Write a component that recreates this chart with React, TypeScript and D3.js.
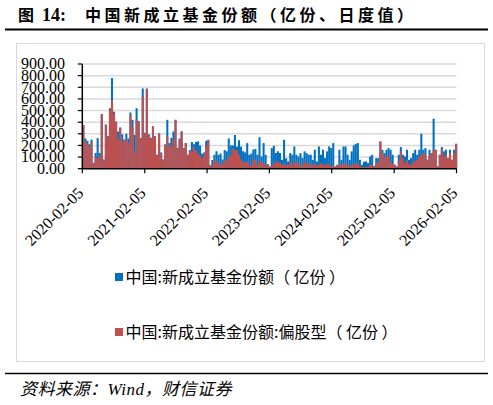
import { useEffect, useRef } from "react"
import * as d3 from "d3"

const startDate = new Date(2020, 1, 5)
const endDate = new Date(2026, 1, 5)
const stepDays = 12

// 中国:新成立基金份额 (亿份)
const totalShares = [
  375, 260, 240, 210, 250, 50, 135, 263, 135, 470, 80, 380, 280, 520, 780, 490, 405, 320, 355, 295,
  250, 300, 260, 483, 420, 290, 520, 410, 265, 690, 310, 690, 295, 265, 365, 280, 120, 305, 140, 80,
  210, 420, 220, 265, 320, 420, 180, 260, 320, 177, 220, 120, 160, 230, 210, 230, 235, 200, 130, 140,
  240, 248, 30, 75, 120, 150, 120, 130, 80, 160, 150, 260, 200, 200, 290, 190, 245, 190, 150, 140,
  220, 120, 130, 165, 170, 120, 270, 105, 220, 120, 40, 20, 177, 197, 135, 150, 135, 77, 249, 90,
  63, 134, 120, 191, 120, 105, 134, 91, 149, 134, 120, 120, 77, 163, 63, 191, 120, 163, 91, 149,
  191, 177, 220, 20, 34, 163, 77, 191, 191, 120, 77, 149, 200, 214, 220, 77, 34, 60, 63, 49,
  105, 120, 25, 91, 91, 234, 163, 134, 163, 177, 163, 120, 34, 20, 120, 186, 120, 105, 163, 77,
  91, 134, 163, 120, 163, 300, 163, 177, 77, 163, 134, 430, 163, 20, 120, 186, 149, 163, 91, 163,
  77, 163, 214,
]

// 中国:新成立基金份额:偏股型 (亿份)
const equityShares = [
  375, 230, 215, 190, 230, 45, 100, 90, 105, 463, 70, 377, 270, 510, 590, 477, 400, 250, 350, 235,
  250, 250, 220, 463, 360, 140, 420, 400, 263, 620, 305, 683, 280, 255, 363, 277, 110, 300, 134, 75,
  205, 277, 200, 190, 250, 420, 175, 250, 320, 175, 220, 120, 150, 150, 190, 160, 130, 110, 90, 135,
  200, 248, 25, 35, 80, 60, 50, 45, 40, 75, 70, 110, 120, 175, 160, 160, 120, 80, 55, 60,
  60, 35, 34, 77, 80, 35, 60, 60, 50, 35, 34, 15, 30, 40, 63, 60, 50, 34, 40, 30,
  34, 63, 40, 50, 63, 40, 34, 30, 63, 40, 49, 34, 30, 40, 30, 34, 49, 40, 30, 40,
  40, 20, 30, 15, 25, 40, 34, 40, 49, 30, 25, 30, 40, 45, 49, 20, 15, 15, 15, 15,
  34, 30, 20, 49, 60, 234, 134, 105, 105, 120, 60, 40, 34, 20, 63, 149, 91, 49, 77, 40,
  34, 63, 63, 77, 105, 120, 134, 120, 77, 120, 134, 163, 163, 20, 120, 163, 105, 120, 91, 134,
  77, 134, 214,
]

const yTicks = [0, 100, 200, 300, 400, 500, 600, 700, 800, 900]
const xTickLabels = [
  "2020-02-05",
  "2021-02-05",
  "2022-02-05",
  "2023-02-05",
  "2024-02-05",
  "2025-02-05",
  "2026-02-05",
]
const seriesNames = ["中国:新成立基金份额（ 亿份 ）", "中国:新成立基金份额:偏股型（ 亿份 ）"]
const seriesColors = ["#0070c0", "#c0504d"]

export default function App() {
  const svgRef = useRef<SVGSVGElement>(null)

  useEffect(() => {
    if (!svgRef.current) return
    const svg = d3.select(svgRef.current)
    svg.selectAll("*").remove()

    const width = 493
    const height = 405
    const plotLeft = 82.3
    const plotRight = 456.5
    const plotTop = 64
    const plotBottom = 168.7
    const cjk = "'Noto Sans CJK SC', sans-serif"
    const serif = "'Liberation Serif', 'Times New Roman', serif"

    svg.attr("width", width).attr("height", height)
    svg.append("rect").attr("width", width).attr("height", height).attr("fill", "#fff")

    // title
    const title = svg.append("text").attr("y", 21).style("font-weight", "bold").style("fill", "#000")
    title.append("tspan").attr("x", 18).style("font-family", cjk).style("font-size", "16px").text("图")
    title.append("tspan").attr("x", 42).style("font-family", serif).style("font-size", "18px").text("14:")
    title
      .append("tspan")
      .attr("x", 85)
      .style("font-family", cjk)
      .style("font-size", "16px")
      .style("letter-spacing", "3.5px")
      .text("中国新成立基金份额（亿份、日度值）")

    svg.append("line").attr("x1", 5).attr("x2", 488).attr("y1", 29.5).attr("y2", 29.5).attr("stroke", "#000").attr("stroke-width", 2)

    // chart frame
    svg
      .append("rect")
      .attr("x", 16.5)
      .attr("y", 43.5)
      .attr("width", 468)
      .attr("height", 318)
      .attr("fill", "none")
      .attr("stroke", "#d9d9d9")
      .attr("stroke-width", 1)

    const dates = totalShares.map((_, i) => d3.timeDay.offset(startDate, i * stepDays))

    const x = d3.scaleTime().domain([startDate, endDate]).range([plotLeft, plotRight])
    const y = d3.scaleLinear().domain([0, 900]).range([plotBottom, plotTop])
    const barW = x(d3.timeDay.offset(startDate, stepDays)) - x(startDate)

    // gridlines
    svg
      .append("g")
      .selectAll("line")
      .data(yTicks.filter((t) => t > 0))
      .enter()
      .append("line")
      .attr("x1", plotLeft)
      .attr("x2", plotRight)
      .attr("y1", (d) => y(d))
      .attr("y2", (d) => y(d))
      .attr("stroke", "#d9d9d9")
      .attr("stroke-width", 1.5)

    // bars: total first, equity on top
    const series = [totalShares, equityShares]
    series.forEach((values, si) => {
      svg
        .append("g")
        .selectAll("rect")
        .data(values)
        .enter()
        .append("rect")
        .attr("x", (_, i) => x(dates[i]))
        .attr("width", barW)
        .attr("y", (d) => y(d))
        .attr("height", (d) => plotBottom - y(d))
        .attr("fill", seriesColors[si])
    })

    // y axis
    const yAxis = svg.append("g")
    yAxis.append("line").attr("x1", plotLeft).attr("x2", plotLeft).attr("y1", plotTop).attr("y2", plotBottom).attr("stroke", "#000").attr("stroke-width", 1.5)
    yAxis
      .selectAll(".ytick")
      .data(yTicks)
      .enter()
      .append("line")
      .attr("x1", plotLeft - 4.5)
      .attr("x2", plotLeft)
      .attr("y1", (d) => y(d))
      .attr("y2", (d) => y(d))
      .attr("stroke", "#000")
      .attr("stroke-width", 1.2)
    yAxis
      .selectAll("text")
      .data(yTicks)
      .enter()
      .append("text")
      .attr("x", 65)
      .attr("y", (d) => y(d))
      .attr("dy", "0.33em")
      .attr("text-anchor", "end")
      .style("font-family", serif)
      .style("font-size", "16px")
      .style("fill", "#000")
      .text((d) => d3.format(".2f")(d))

    // x axis
    const xAxis = svg.append("g")
    xAxis.append("line").attr("x1", plotLeft).attr("x2", plotRight).attr("y1", plotBottom).attr("y2", plotBottom).attr("stroke", "#000").attr("stroke-width", 1.5)
    const tickDates = xTickLabels.map((s) => d3.timeParse("%Y-%m-%d")(s) as Date)
    xAxis
      .selectAll(".xtick")
      .data(tickDates)
      .enter()
      .append("line")
      .attr("x1", (d) => x(d))
      .attr("x2", (d) => x(d))
      .attr("y1", plotBottom)
      .attr("y2", plotBottom + 4.5)
      .attr("stroke", "#000")
      .attr("stroke-width", 1.2)
    xAxis
      .selectAll("text")
      .data(tickDates)
      .enter()
      .append("text")
      .attr("transform", (d) => `translate(${x(d) + 2},${194}) rotate(-45)`)
      .attr("text-anchor", "end")
      .style("font-family", serif)
      .style("font-size", "16px")
      .style("fill", "#000")
      .text((_, i) => xTickLabels[i])

    // legend
    const legend = svg.append("g")
    const legendY = [277, 332]
    seriesNames.forEach((name, i) => {
      legend.append("rect").attr("x", 115).attr("y", legendY[i] - 4).attr("width", 8).attr("height", 8).attr("fill", seriesColors[i])
      legend
        .append("text")
        .attr("x", 125.5)
        .attr("y", legendY[i] + 6)
        .style("font-family", cjk)
        .style("font-size", "16px")
        .style("fill", "#000")
        .text(name)
    })

    // source
    svg.append("line").attr("x1", 5).attr("x2", 488).attr("y1", 373.5).attr("y2", 373.5).attr("stroke", "#000").attr("stroke-width", 1.5)
    svg
      .append("text")
      .attr("x", 20)
      .attr("y", 395)
      .style("font-family", "'Liberation Serif', 'Noto Sans CJK SC', serif")
      .style("font-style", "italic")
      .style("font-size", "17px")
      .style("letter-spacing", "0.5px")
      .style("fill", "#000")
      .text("资料来源：Wind，财信证券")
  }, [])

  return (
    <div style={{ position: "absolute", left: 0, top: 0 }}>
      <svg ref={svgRef}></svg>
    </div>
  )
}
